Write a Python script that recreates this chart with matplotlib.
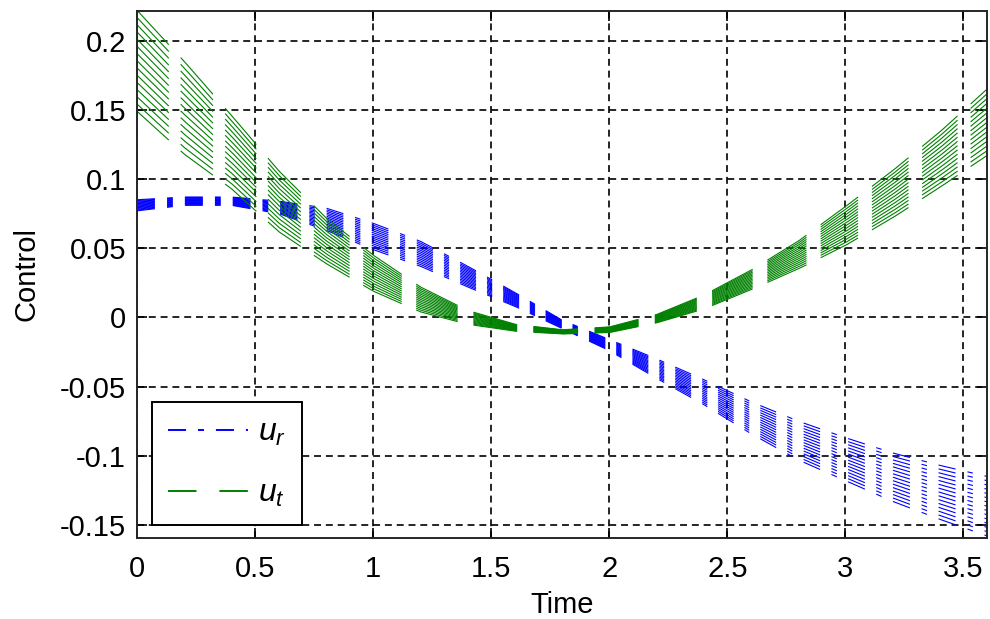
import numpy as np
import matplotlib
matplotlib.use("Agg")
import matplotlib.pyplot as plt
from matplotlib.lines import Line2D
from matplotlib.ticker import FuncFormatter

plt.rcParams['font.family'] = ['Liberation Sans', 'DejaVu Sans']
plt.rcParams['axes.unicode_minus'] = False
plt.rcParams['lines.scale_dashes'] = False
plt.rcParams['mathtext.fontset'] = 'custom'
plt.rcParams['mathtext.it'] = 'Liberation Sans:italic'
plt.rcParams['mathtext.rm'] = 'Liberation Sans'

# czas i obwiednie pasm
czas = [0.0, 0.2, 0.4, 0.6, 0.8, 1.0, 1.2, 1.4, 1.6, 1.8,
        2.0, 2.2, 2.4, 2.6, 2.8, 3.0, 3.2, 3.4, 3.6]

ut_gora = [0.222, 0.185, 0.146, 0.106, 0.072, 0.045, 0.022, 0.005, -0.005, -0.009,
           -0.007, 0.002, 0.016, 0.034, 0.055, 0.080, 0.106, 0.134, 0.165]
ut_dol = [0.149, 0.118, 0.093, 0.062, 0.039, 0.019, 0.004, -0.005, -0.010, -0.012,
          -0.011, -0.004, 0.006, 0.020, 0.035, 0.052, 0.072, 0.094, 0.117]

ur_gora = [0.085, 0.087, 0.087, 0.084, 0.079, 0.068, 0.055, 0.037, 0.018, -0.002,
           -0.016, -0.030, -0.045, -0.061, -0.075, -0.087, -0.098, -0.107, -0.115]
ur_dol = [0.077, 0.081, 0.081, 0.075, 0.063, 0.049, 0.037, 0.022, 0.008, -0.008,
          -0.024, -0.044, -0.063, -0.084, -0.103, -0.118, -0.133, -0.146, -0.158]

n_traj = 15
kreska_ur = (13, 8.6, 4.3, 8.6)   # wzor kreska-kropka [pt]
kreska_ut = (32.3, 11.8)          # wzor kreskowy [pt]

fig = plt.figure(figsize=(9.9, 6.19), dpi=100)
ax = fig.add_axes([0.1384, 0.1309, 0.8586, 0.8514])
ax.set_xlim(0, 3.6)
ax.set_ylim(-0.1595, 0.2215)

czas = np.array(czas)
t_gest = np.linspace(czas[0], czas[-1], 3000)


def maska_kresek(y_srodek, wzor):
    # kreski liczone wzdluz srodkowej trajektorii, wspolne dla calej rodziny
    pts = ax.transData.transform(np.column_stack([t_gest, y_srodek]))
    ds = np.hypot(np.diff(pts[:, 0]), np.diff(pts[:, 1])) * 72 / fig.dpi
    s = np.concatenate([[0], np.cumsum(ds)])
    faza = s % sum(wzor)
    wl = np.zeros_like(s, dtype=bool)
    start = 0
    for i, d in enumerate(wzor):
        if i % 2 == 0:
            wl |= (faza >= start) & (faza < start + d)
        start += d
    return wl


def rysuj_pasmo(dol, gora, kolor, wzor):
    dol = np.interp(t_gest, czas, dol)
    gora = np.interp(t_gest, czas, gora)
    wl = maska_kresek(0.5 * (dol + gora), wzor)
    for k in range(n_traj):
        w = k / (n_traj - 1)
        y = dol + w * (gora - dol)
        ax.plot(t_gest, np.where(wl, y, np.nan), color=kolor, lw=0.8,
                solid_capstyle='butt')


rysuj_pasmo(ur_dol, ur_gora, '#0000ff', kreska_ur)
rysuj_pasmo(ut_dol, ut_gora, '#008000', kreska_ut)

ax.set_xticks(np.arange(0, 3.6, 0.5))
ax.set_yticks([-0.15, -0.1, -0.05, 0, 0.05, 0.1, 0.15, 0.2])
fmt = FuncFormatter(lambda v, p: '%g' % round(v, 3))
ax.xaxis.set_major_formatter(fmt)
ax.yaxis.set_major_formatter(fmt)
ax.tick_params(direction='in', length=7, width=1.2, top=True, right=True,
               labelsize=21)
ax.tick_params(axis='x', pad=12)
ax.tick_params(axis='y', pad=8)
ax.grid(True, color='black', lw=1.2, dashes=(5, 3.5))
for s in ax.spines.values():
    s.set_linewidth(1.4)
    s.set_color('0.15')

ax.set_xlabel('Time', fontsize=21, labelpad=6)
ax.set_ylabel('Control', fontsize=21, labelpad=14)

uchwyty = [Line2D([], [], color='#0000ff', lw=1.4, dashes=kreska_ur),
           Line2D([], [], color='#008000', lw=1.4, dashes=(20.5, 16.5))]
leg = ax.legend(uchwyty, [r'$u_r$', r'$u_t$'], loc='lower left',
                bbox_to_anchor=(0.018, 0.025), borderaxespad=0, fontsize=23,
                handlelength=2.5, handletextpad=0.3, labelspacing=0.95,
                fancybox=False, framealpha=1, edgecolor='black', borderpad=0.5)
leg.get_frame().set_linewidth(1.4)

fig.savefig('out.png', dpi=100)
